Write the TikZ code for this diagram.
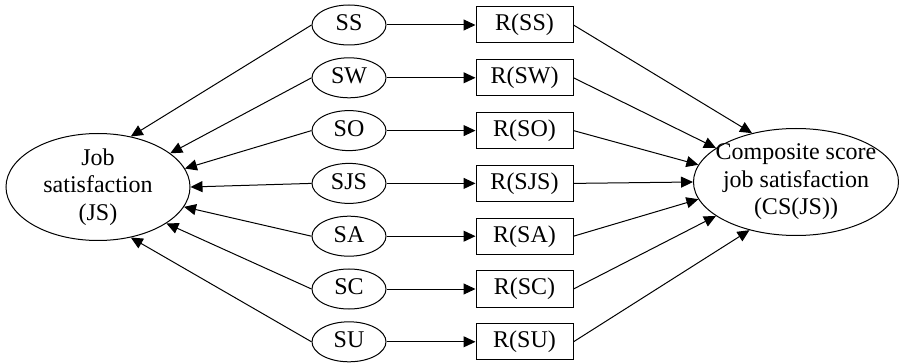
\documentclass[tikz,border=0pt]{standalone}
\usepackage{fontspec}
\setmainfont{Liberation Serif}
\newfontfamily\timesfont{Liberation Serif}
\usepackage{tikz}
\usetikzlibrary{shapes.geometric, arrows.meta, positioning}

\begin{document}
\begin{tikzpicture}[
  x=1pt, y=1pt,
  node distance=26.4pt and 87.75pt, on grid,
  font=\timesfont\fontsize{12}{13.8}\selectfont,
  sdim/.style={ellipse, draw, line width=0.5pt, inner sep=0pt, minimum width=37pt,
               minimum height=20pt, text height=1.6ex, text depth=0.3ex},
  rdim/.style={rectangle, draw, line width=0.5pt, inner sep=0pt, minimum width=48.5pt,
               minimum height=18pt, text height=1.6ex, text depth=0.3ex},
  bigell/.style={ellipse, draw, line width=0.5pt, align=center, inner sep=-4pt},
  arr/.style={-{Triangle[length=6pt,width=5.5pt]}, line width=0.5pt}
]
  \useasboundingbox (0,0) rectangle (449.5,-181.5);

  % dimensions
  \node[sdim] (ss) at (174.5,-12.5) {SS};
  \node[sdim, below=of ss] (sw) {SW};
  \node[sdim, below=of sw] (so) {SO};
  \node[sdim, below=of so] (sjs) {SJS};
  \node[sdim, below=of sjs] (sa) {SA};
  \node[sdim, below=of sa] (sc) {SC};
  \node[sdim, below=of sc] (su) {SU};

  % scores
  \node[rdim, right=of ss] (rss) {R(SS)};
  \node[rdim, right=of sw] (rsw) {R(SW)};
  \node[rdim, right=of so] (rso) {R(SO)};
  \node[rdim, right=of sjs] (rsjs) {R(SJS)};
  \node[rdim, right=of sa] (rsa) {R(SA)};
  \node[rdim, right=of sc] (rsc) {R(SC)};
  \node[rdim, right=of su] (rsu) {R(SU)};

  \node[bigell, minimum width=92pt, minimum height=53.5pt, left=125.5pt of sjs, yshift=-1.8pt] (js)
    {Job\\satisfaction\\(JS)};
  \node[bigell, minimum width=102.5pt, minimum height=53.5pt, right=135.75pt of rsjs, yshift=0.7pt] (csjs)
    {Composite score\\job satisfaction\\(CS(JS))};

  \draw[arr] (ss.west) -- (js.57);
  \draw[arr] (sw.west) -- (js.25);
  \draw[arr] (so.west) -- (js.12);
  \draw[arr] (sjs.west) -- (js.0);
  \draw[arr] (sa.west) -- (js.-13);
  \draw[arr] (sc.west) -- (js.-28.5);
  \draw[arr] (su.west) -- (js.-57);

  \draw[arr] (ss) -- (rss);
  \draw[arr] (sw) -- (rsw);
  \draw[arr] (so) -- (rso);
  \draw[arr] (sjs) -- (rsjs);
  \draw[arr] (sa) -- (rsa);
  \draw[arr] (sc) -- (rsc);
  \draw[arr] (su) -- (rsu);

  \draw[arr] (rss.east) -- (csjs.132.6);
  \draw[arr] (rsw.east) -- (csjs.157);
  \draw[arr] (rso.east) -- (csjs.170);
  \draw[arr] (rsjs.east) -- (csjs.180);
  \draw[arr] (rsa.east) -- (csjs.190);
  \draw[arr] (rsc.east) -- (csjs.203.5);
  \draw[arr] (rsu.east) -- (csjs.226.7);
\end{tikzpicture}
\end{document}
